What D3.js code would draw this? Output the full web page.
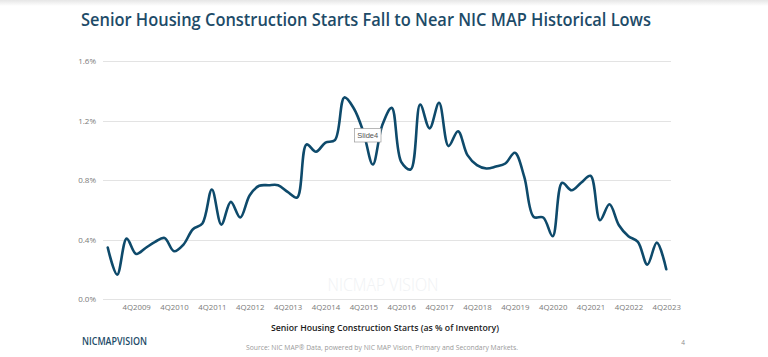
<!DOCTYPE html>
<html>
<head>
<meta charset="utf-8">
<script src="https://cdn.jsdelivr.net/npm/d3@7"></script>
<style>
  html, body { margin: 0; padding: 0; background: #ffffff; }
  svg { display: block; }
</style>
</head>
<body>
<div id="chart"></div>
<script>
// ---- Data ----
const years = d3.range(2009, 2024);
const quarters = years.flatMap(y => [1, 2, 3, 4].map(q => q + "Q" + y));
const startsPct = [
  0.346, 0.164, 0.406, 0.303, 0.343, 0.384, 0.410, 0.321,
  0.366, 0.469, 0.507, 0.736, 0.500, 0.653, 0.548, 0.698,
  0.761, 0.765, 0.765, 0.720, 0.682, 1.039, 0.990, 1.052,
  1.068, 1.355, 1.281, 1.124, 0.904, 1.169, 1.285, 0.922,
  0.871, 1.308, 1.147, 1.319, 1.028, 1.128, 0.967, 0.900,
  0.877, 0.890, 0.911, 0.983, 0.821, 0.552, 0.548, 0.422,
  0.781, 0.731, 0.781, 0.828, 0.530, 0.637, 0.496, 0.422,
  0.384, 0.231, 0.379, 0.200
];
const tickLabels = years.map(y => "4Q" + y);
const yTicks = [0, 0.4, 0.8, 1.2, 1.6];

const titleText = "Senior Housing Construction Starts Fall to Near NIC MAP Historical Lows";
const axisTitle = "Senior Housing Construction Starts (as % of Inventory)";
const sourceText = "Source: NIC MAP\u00AE Data, powered by NIC MAP Vision, Primary and Secondary Markets.";

// ---- Layout ----
const W = 768, H = 357;
const svg = d3.select("#chart").append("svg").attr("width", W).attr("height", H);

// subtle top shadow
const defs = svg.append("defs");
const grad = defs.append("linearGradient").attr("id", "topShade").attr("x1", 0).attr("y1", 0).attr("x2", 0).attr("y2", 1);
grad.append("stop").attr("offset", "0%").attr("stop-color", "#e6e6e6");
grad.append("stop").attr("offset", "100%").attr("stop-color", "#ffffff");
svg.append("rect").attr("x", 0).attr("y", 0).attr("width", W).attr("height", 6).attr("fill", "url(#topShade)");

const plot = { left: 103, right: 671, top: 61, bottom: 299 };

const x = d3.scalePoint().domain(quarters).range([plot.left, plot.right]).padding(0.5);
const y = d3.scaleLinear().domain([0, 1.6]).range([plot.bottom, plot.top]);

// Title
svg.append("text")
  .attr("x", 81).attr("y", 26)
  .attr("font-family", "Open Sans, sans-serif")
  .attr("font-weight", 600)
  .attr("font-size", 18.6)
  .attr("fill", "#1d4b68")
  .attr("textLength", 570)
  .attr("lengthAdjust", "spacingAndGlyphs")
  .text(titleText);

// Gridlines
svg.append("g").selectAll("line").data(yTicks).join("line")
  .attr("x1", plot.left).attr("x2", plot.right)
  .attr("y1", d => Math.round(y(d)) + 0.5).attr("y2", d => Math.round(y(d)) + 0.5)
  .attr("stroke", "#e3e3e3").attr("stroke-width", 1);

// Y axis labels
const yAxis = d3.axisLeft(y).tickValues(yTicks).tickFormat(d => d.toFixed(1) + "%").tickSize(0).tickPadding(0);
const gy = svg.append("g").attr("transform", `translate(96,0)`).call(yAxis);
gy.select(".domain").remove();
gy.selectAll("text")
  .attr("font-family", "Open Sans, sans-serif")
  .attr("font-size", 8)
  .attr("fill", "#7a7a7a");

// X axis labels (every 4th quarter)
const xAxis = d3.axisBottom(x).tickValues(tickLabels).tickSize(0).tickPadding(0);
const gx = svg.append("g").attr("transform", `translate(0,304.5)`).call(xAxis);
gx.select(".domain").remove();
gx.selectAll("text")
  .attr("font-family", "Open Sans, sans-serif")
  .attr("font-size", 7.8)
  .attr("fill", "#7a7a7a")
  .attr("dy", "0.71em");

// Watermark
svg.append("text")
  .attr("x", 383).attr("y", 291)
  .attr("text-anchor", "middle")
  .attr("font-family", "Open Sans, sans-serif")
  .attr("font-weight", 300)
  .attr("font-size", 18)
  .attr("fill", "#f0f2f4")
  .attr("textLength", 111)
  .attr("lengthAdjust", "spacingAndGlyphs")
  .text("NICMAP VISION");

// Line
const line = d3.line()
  .x((d, i) => x(quarters[i]))
  .y(d => y(d))
  .curve(d3.curveCatmullRom.alpha(0.5));

svg.append("path")
  .datum(startsPct)
  .attr("d", line)
  .attr("fill", "none")
  .attr("stroke", "#0e4a6b")
  .attr("stroke-width", 2.6)
  .attr("stroke-linejoin", "round")
  .attr("stroke-linecap", "round");

// "Slide4" tooltip box
const tip = svg.append("g").attr("transform", "translate(354.5,128.5)");
tip.append("rect").attr("width", 26.5).attr("height", 13.5)
  .attr("fill", "#ffffff").attr("stroke", "#9a9a9a").attr("stroke-width", 0.7);
tip.append("text").attr("x", 13.25).attr("y", 9.6)
  .attr("text-anchor", "middle")
  .attr("font-family", "Liberation Sans, Arial, sans-serif")
  .attr("font-size", 7.5).attr("fill", "#555")
  .text("Slide4");

// Axis title
svg.append("text")
  .attr("x", 385).attr("y", 331)
  .attr("text-anchor", "middle")
  .attr("font-family", "Open Sans, sans-serif")
  .attr("font-weight", 600)
  .attr("font-size", 9.4)
  .attr("fill", "#1a1a1a")
  .attr("textLength", 228)
  .attr("lengthAdjust", "spacingAndGlyphs")
  .text(axisTitle);

// Logo
svg.append("text")
  .attr("x", 82).attr("y", 345)
  .attr("font-family", "Open Sans, sans-serif")
  .attr("font-weight", 600)
  .attr("font-size", 11)
  .attr("fill", "#1d4b68")
  .attr("textLength", 65)
  .attr("lengthAdjust", "spacingAndGlyphs")
  .text("NICMAPVISION");

// Source
svg.append("text")
  .attr("x", 382).attr("y", 349.5)
  .attr("text-anchor", "middle")
  .attr("font-family", "Open Sans, sans-serif")
  .attr("font-size", 6.3)
  .attr("fill", "#9a9a9a")
  .attr("textLength", 272)
  .attr("lengthAdjust", "spacingAndGlyphs")
  .text(sourceText);

// Page number
svg.append("text")
  .attr("x", 683).attr("y", 345)
  .attr("text-anchor", "middle")
  .attr("font-family", "Open Sans, sans-serif")
  .attr("font-size", 6.5)
  .attr("fill", "#8a8a8a")
  .text("4");
</script>
</body>
</html>
